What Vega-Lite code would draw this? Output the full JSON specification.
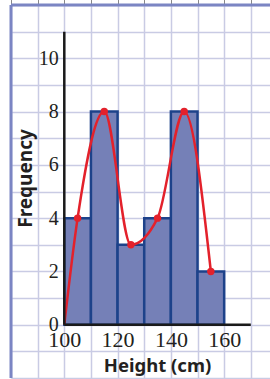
{
  "$schema": "https://vega.github.io/schema/vega-lite/v6.json",
  "width": 259,
  "height": 373,
  "padding": {"left": 11, "top": 5, "right": 0, "bottom": 1},
  "autosize": {"type": "none"},
  "background": "white",
  "config": {"view": {"stroke": null}},
  "data": {"values": [{}]},
  "datasets": {
    "bars": [
      {"start": 100, "end": 110, "freq": 4},
      {"start": 110, "end": 120, "freq": 8},
      {"start": 120, "end": 130, "freq": 3},
      {"start": 130, "end": 140, "freq": 4},
      {"start": 140, "end": 150, "freq": 8},
      {"start": 150, "end": 160, "freq": 2}
    ],
    "curve": [
      {"height": 100, "freq": 0},
      {"height": 105, "freq": 4},
      {"height": 115, "freq": 8},
      {"height": 125, "freq": 3},
      {"height": 135, "freq": 4},
      {"height": 145, "freq": 8},
      {"height": 155, "freq": 2}
    ]
  },
  "layer": [
    {
      "mark": {"type": "rule", "color": "#7b85c3", "strokeWidth": 3},
      "encoding": {
        "x": {"datum": 80, "type": "quantitative", "scale": {"domain": [80, 177.2], "nice": false, "zero": false},
          "axis": {"orient": "bottom", "values": [80, 90, 100, 110, 120, 130, 140, 150, 160, 170], "grid": true, "gridColor": "#c9cbe4", "gridWidth": 1.5, "labels": false, "ticks": false, "domain": false, "title": null, "zindex": 0}},
        "x2": {"datum": 177.2},
        "y": {"datum": 12, "type": "quantitative", "scale": {"domain": [-2, 12], "nice": false, "zero": false},
          "axis": {"orient": "left", "values": [-2, -1, 0, 1, 2, 3, 4, 5, 6, 7, 8, 9, 10, 11, 12], "grid": true, "gridColor": "#c9cbe4", "gridWidth": 1.5, "labels": false, "ticks": false, "domain": false, "title": null, "zindex": 0}}
      }
    },
    {
      "mark": {"type": "rule", "color": "#7b85c3", "strokeWidth": 3},
      "encoding": {
        "x": {"datum": 80, "type": "quantitative"},
        "y": {"datum": -2, "type": "quantitative"},
        "y2": {"datum": 12}
      }
    },
    {
      "data": {"name": "bars"},
      "mark": {"type": "bar", "fill": "#7580b7", "stroke": "#1d428a", "strokeWidth": 2.5},
      "encoding": {
        "x": {"field": "start", "type": "quantitative",
          "axis": {"orient": "bottom", "offset": -53.3, "values": [100, 120, 140, 160], "grid": false, "ticks": false, "domain": false,
            "labelFont": "Liberation Serif", "labelFontSize": 22, "labelColor": "#231f20", "labelPadding": 5,
            "title": "Height (cm)", "titleFont": "Noto Sans", "titleFontSize": 18.5, "titleFontWeight": "bold", "titleColor": "#231f20", "titleX": 146, "titlePadding": 6}},
        "x2": {"field": "end"},
        "y": {"field": "freq", "type": "quantitative",
          "axis": {"orient": "left", "offset": -53.3, "values": [0, 2, 4, 6, 8, 10], "grid": false, "ticks": false, "domain": false,
            "labelFont": "Liberation Serif", "labelFontSize": 20, "labelColor": "#231f20", "labelPadding": 6,
            "title": "Frequency", "titleFont": "Noto Sans", "titleFontSize": 19, "titleFontWeight": "bold", "titleColor": "#231f20", "titleX": -29, "titleY": 173, "titleBaseline": "bottom"}},
        "y2": {"datum": 0}
      }
    },
    {
      "data": {"name": "curve"},
      "mark": {"type": "line", "color": "#e3212b", "strokeWidth": 2.5, "interpolate": "monotone"},
      "encoding": {
        "x": {"field": "height", "type": "quantitative"},
        "y": {"field": "freq", "type": "quantitative"}
      }
    },
    {
      "mark": {"type": "rule", "color": "#1a1a1a", "strokeWidth": 2.5},
      "encoding": {
        "x": {"datum": 100, "type": "quantitative"},
        "y": {"datum": 0, "type": "quantitative"},
        "y2": {"datum": 11}
      }
    },
    {
      "mark": {"type": "rule", "color": "#1a1a1a", "strokeWidth": 2.5},
      "encoding": {
        "x": {"datum": 100, "type": "quantitative"},
        "x2": {"datum": 170},
        "y": {"datum": 0, "type": "quantitative"}
      }
    },
    {
      "data": {"name": "curve"},
      "transform": [{"filter": "datum.height > 100"}],
      "mark": {"type": "circle", "color": "#e3212b", "size": 55, "opacity": 1},
      "encoding": {
        "x": {"field": "height", "type": "quantitative"},
        "y": {"field": "freq", "type": "quantitative"}
      }
    }
  ],
  "resolve": {"axis": {"x": "independent", "y": "independent"}}
}
